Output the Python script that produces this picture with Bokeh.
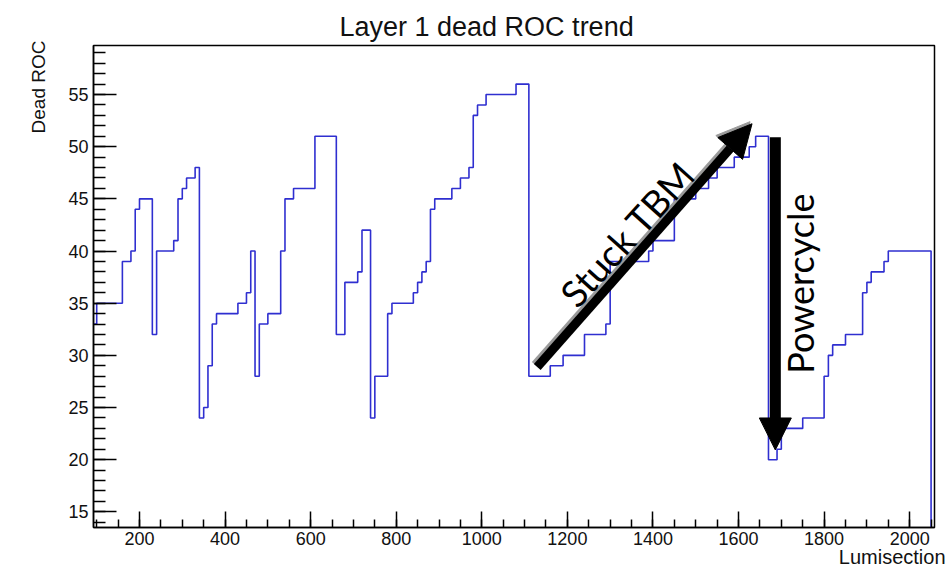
from bokeh.plotting import figure
from bokeh.models import Range1d, SingleIntervalTicker, Label, Arrow, NormalHead, Title
from bokeh.embed import file_html
from bokeh.resources import INLINE

title_text = "Layer 1 dead ROC trend"
x_label = "Lumisection"
y_label = "Dead ROC"
note_up = "Stuck TBM"
note_down = "Powercycle"

# histogram bin low edges (lumisection) and bin contents (dead ROCs)
lumi_edges = [90, 100, 160, 180, 190, 200, 230, 240, 280, 290, 300, 310, 330,
              340, 350, 360, 370, 380, 430, 450, 460, 470, 480, 500, 530, 540,
              560, 610, 660, 680, 710, 720, 740, 750, 780, 790, 840, 850, 860,
              870, 880, 890, 930, 950, 970, 980, 990, 1010, 1080, 1110, 1160,
              1190, 1240, 1290, 1300, 1390, 1400, 1450, 1500, 1530, 1550, 1590,
              1625, 1640, 1670, 1690, 1700, 1750, 1800, 1810, 1820, 1850, 1890,
              1900, 1910, 1940, 1950, 2050, 2060]
dead_roc = [33, 35, 39, 40, 44, 45, 32, 40, 41, 45, 46, 47, 48,
            24, 25, 29, 33, 34, 35, 36, 40, 28, 33, 34, 40, 45,
            46, 51, 32, 37, 38, 42, 24, 28, 34, 35, 36, 37, 38,
            39, 44, 45, 46, 47, 48, 53, 54, 55, 56, 28, 29,
            30, 32, 33, 39, 40, 41, 45, 46, 47, 48, 49,
            50, 51, 20, 21, 23, 24, 28, 30, 31, 32, 36,
            37, 38, 39, 40, 0]

X_MIN, X_MAX = 92.5, 2058
Y_MIN, Y_MAX = 13.5, 59.7

p = figure(width=950, height=568, output_backend="svg", toolbar_location=None,
           x_range=Range1d(X_MIN, X_MAX), y_range=Range1d(Y_MIN, Y_MAX),
           min_border_left=93, min_border_right=16, min_border_top=45,
           min_border_bottom=41)
p.background_fill_color = "white"
p.border_fill_color = "white"
p.outline_line_color = "black"
p.outline_line_width = 1.5
p.xgrid.visible = False
p.ygrid.visible = False

ys = dead_roc + [dead_roc[-1]]
p.step(x=lumi_edges, y=ys, mode="after", line_color="#2f2fd0", line_width=1.6)

# axes (ROOT style: ticks inside the frame)
xa = p.xaxis[0]
xa.ticker = SingleIntervalTicker(interval=200, num_minor_ticks=4)
xa.major_tick_in = 16
xa.major_tick_out = 0
xa.minor_tick_in = 8
xa.minor_tick_out = 0
xa.major_label_standoff = 4
ya = p.yaxis[0]
ya.ticker = SingleIntervalTicker(interval=5, num_minor_ticks=5)
ya.major_tick_in = 23
ya.major_tick_out = 0
ya.minor_tick_in = 12
ya.minor_tick_out = 0
ya.major_label_standoff = 5
for ax in (xa, ya):
    ax.axis_line_color = "black"
    ax.axis_line_width = 1.5
    ax.major_tick_line_color = "black"
    ax.major_tick_line_width = 1.5
    ax.minor_tick_line_color = "black"
    ax.minor_tick_line_width = 1.5
    ax.major_label_text_font = "Liberation Sans"
    ax.major_label_text_font_size = "18px"
    ax.major_label_text_color = "#111111"

# titles placed in the side panels
p.title.text = title_text
p.title.align = "left"
p.title.offset = 246
p.title.standoff = 8
p.title.text_font = "Liberation Sans"
p.title.text_font_size = "27px"
p.title.text_font_style = "normal"
p.title.text_color = "#111111"

p.add_layout(Title(text=y_label, align="right", offset=-5, standoff=34,
                   text_font="Liberation Sans", text_font_size="19px",
                   text_font_style="normal", text_color="#111111"), "left")
p.add_layout(Title(text=x_label, align="right", offset=-11, standoff=-4,
                   vertical_align="top",
                   text_font="Liberation Sans", text_font_size="20px",
                   text_font_style="normal", text_color="#111111"), "below")

# annotation arrows
p.add_layout(Arrow(x_start=1124.9, y_start=29.07, x_end=1626.9, y_end=52.4,
                   line_color="#9a9a9a", line_width=9,
                   end=NormalHead(size=33, fill_color="#9a9a9a", line_color="#9a9a9a")))
p.add_layout(Arrow(x_start=1129.6, y_start=28.88, x_end=1631.6, y_end=52.2,
                   line_color="black", line_width=9,
                   end=NormalHead(size=33, fill_color="black", line_color="black")))
p.add_layout(Arrow(x_start=1686, y_start=50.9, x_end=1686, y_end=20.93,
                   line_color="black", line_width=11,
                   end=NormalHead(size=32, fill_color="black", line_color="black")))

p.add_layout(Label(x=1339.3, y=41.67, text=note_up, angle=48, angle_units="deg",
                   text_align="center", text_baseline="middle", text_font="Lato",
                   text_font_size="37px", text_color="black"))
p.add_layout(Label(x=1744.4, y=36.87, text=note_down, angle=90, angle_units="deg",
                   text_align="center", text_baseline="middle", text_font="Lato",
                   text_font_size="36px", text_color="black"))

open("out.html", "w").write(file_html(p, INLINE))
